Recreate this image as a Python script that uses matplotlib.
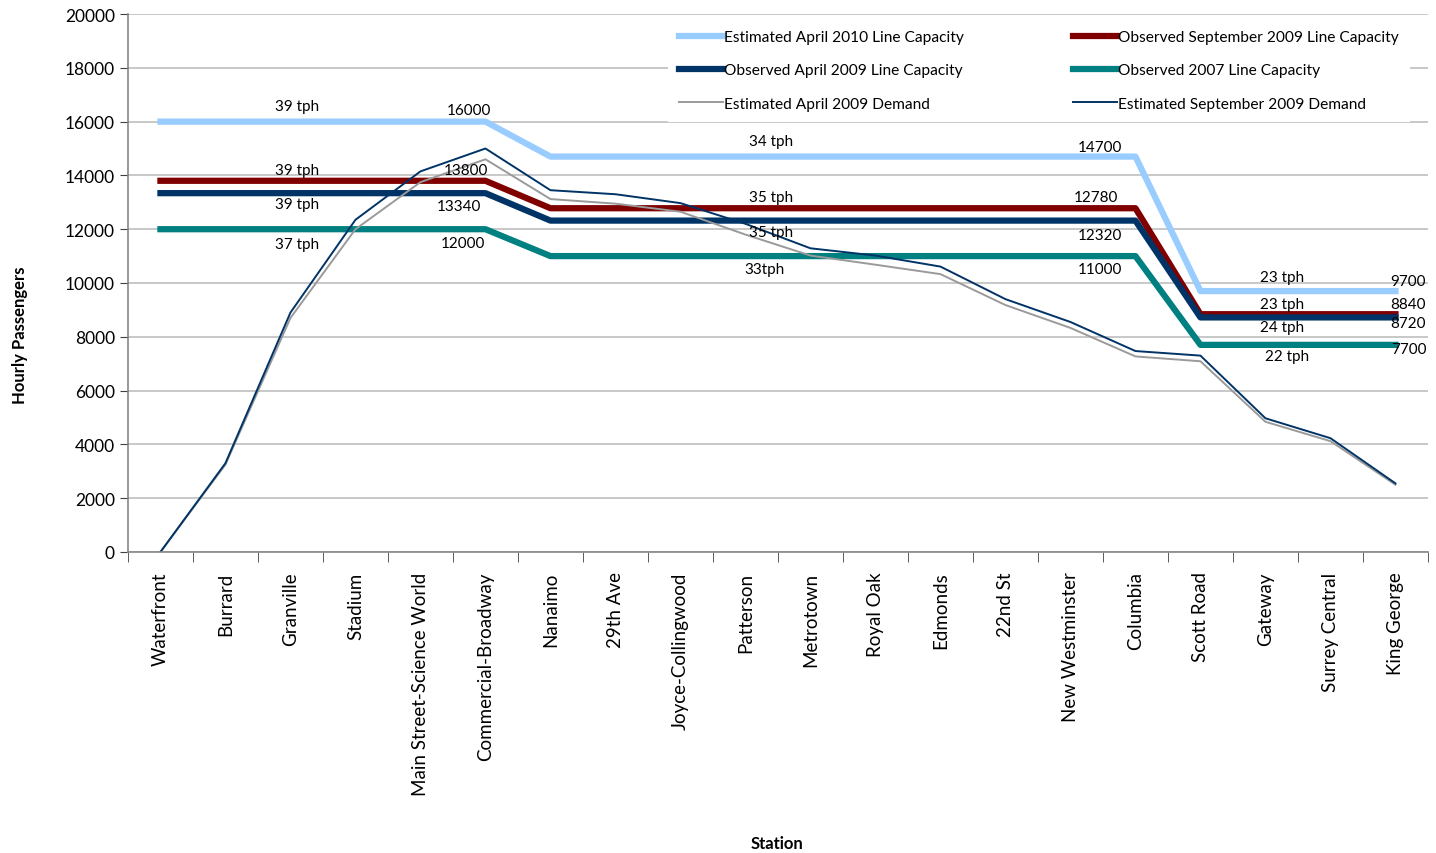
import matplotlib.pyplot as plt

plt.rcParams['font.family'] = ['Lato', 'DejaVu Sans']

stations = ['Waterfront', 'Burrard', 'Granville', 'Stadium', 'Main Street-Science World',
            'Commercial-Broadway', 'Nanaimo', '29th Ave', 'Joyce-Collingwood', 'Patterson',
            'Metrotown', 'Royal Oak', 'Edmonds', '22nd St', 'New Westminster', 'Columbia',
            'Scott Road', 'Gateway', 'Surrey Central', 'King George']

# capacity per segment: first 6 stations, next 10, last 4
seg_len = [6, 10, 4]
cap_est_apr2010 = [16000, 14700, 9700]
cap_obs_sep2009 = [13800, 12780, 8840]
cap_obs_apr2009 = [13340, 12320, 8720]
cap_obs_2007 = [12000, 11000, 7700]

demand_apr2009 = [0, 3250, 8700, 12000, 13750, 14600, 13120, 12950, 12650, 11800,
                  11020, 10680, 10330, 9180, 8330, 7270, 7090, 4840, 4120, 2500]
demand_sep2009 = [0, 3300, 8900, 12350, 14150, 15000, 13450, 13300, 12970, 12200,
                  11290, 11020, 10610, 9400, 8550, 7470, 7300, 4970, 4230, 2550]

# annotations: (text, x index, y)
labels = [
    ('39 tph', 2.1, 16580), ('16000', 4.75, 16430),
    ('39 tph', 2.1, 14200), ('13800', 4.7, 14200),
    ('39 tph', 2.1, 12940), ('13340', 4.6, 12860),
    ('37 tph', 2.1, 11450), ('12000', 4.65, 11490),
    ('34 tph', 9.4, 15280), ('14700', 14.45, 15060),
    ('35 tph', 9.4, 13200), ('12780', 14.4, 13200),
    ('35 tph', 9.4, 11900), ('12320', 14.45, 11780),
    ('33tph', 9.3, 10520), ('11000', 14.45, 10520),
    ('23 tph', 17.26, 10220), ('9700', 19.2, 10070),
    ('23 tph', 17.26, 9220), ('8840', 19.2, 9220),
    ('24 tph', 17.26, 8360), ('8720', 19.2, 8510),
    ('22 tph', 17.33, 7290), ('7700', 19.2, 7550),
]


def expand(vals):
    out = []
    for v, n in zip(vals, seg_len):
        out += [v] * n
    return out


fig = plt.figure(figsize=(14.36, 8.54), dpi=100)
ax = fig.add_axes([0.0891, 0.3525, 0.9053, 0.6299])
x = list(range(len(stations)))

h1, = ax.plot(x, expand(cap_est_apr2010), color='#99CCFF', lw=4.5, label='Estimated April 2010 Line Capacity')
h2, = ax.plot(x, expand(cap_obs_sep2009), color='#800000', lw=4.5, label='Observed September 2009 Line Capacity')
h3, = ax.plot(x, expand(cap_obs_apr2009), color='#003366', lw=4.5, label='Observed April 2009 Line Capacity')
h4, = ax.plot(x, expand(cap_obs_2007), color='#008080', lw=4.5, label='Observed 2007 Line Capacity')
h5, = ax.plot(x, demand_apr2009, color='#9A9A9A', lw=1.4, label='Estimated April 2009 Demand')
h6, = ax.plot(x, demand_sep2009, color='#003366', lw=1.4, label='Estimated September 2009 Demand')

for txt, xi, yi in labels:
    ax.text(xi, yi, txt, ha='center', va='center', fontsize=11, color='black')

ax.set_xlim(-0.5, len(stations) - 0.5)
ax.set_ylim(0, 20000)
ax.set_yticks(range(0, 20001, 2000))
ax.set_xticks(x)
ax.set_xticklabels(stations, rotation=90, fontsize=13.5)
ax.set_xticks([i - 0.5 for i in range(len(stations) + 1)], minor=True)
ax.tick_params(axis='x', which='major', length=0, pad=14)
ax.tick_params(axis='x', which='minor', length=7, color='#404040')
ax.tick_params(axis='y', length=6, labelsize=12.5, color='#404040')
ax.grid(axis='y', color='#BFBFBF', lw=1.2)
ax.set_axisbelow(True)
for s in ['top', 'right']:
    ax.spines[s].set_visible(False)
for s in ['left', 'bottom']:
    ax.spines[s].set_color('#868686')
    ax.spines[s].set_linewidth(1.2)

ax.set_ylabel('Hourly Passengers', fontsize=12, fontweight='bold')
ax.yaxis.set_label_coords(-0.077, 0.405)
fig.text(0.541, 0.006, 'Station', ha='center', fontsize=12, fontweight='bold')

leg = ax.legend([h1, h3, h5, h2, h4, h6],
                [h.get_label() for h in [h1, h3, h5, h2, h4, h6]],
                ncol=2, loc='upper right', bbox_to_anchor=(0.992, 1.005),
                fontsize=11.2, frameon=True, facecolor='white', edgecolor='none',
                framealpha=1, fancybox=False, handlelength=2.8, handletextpad=0.1,
                columnspacing=7, labelspacing=1.25, borderpad=0.7)

fig.savefig('out.png', dpi=100, facecolor='white')
